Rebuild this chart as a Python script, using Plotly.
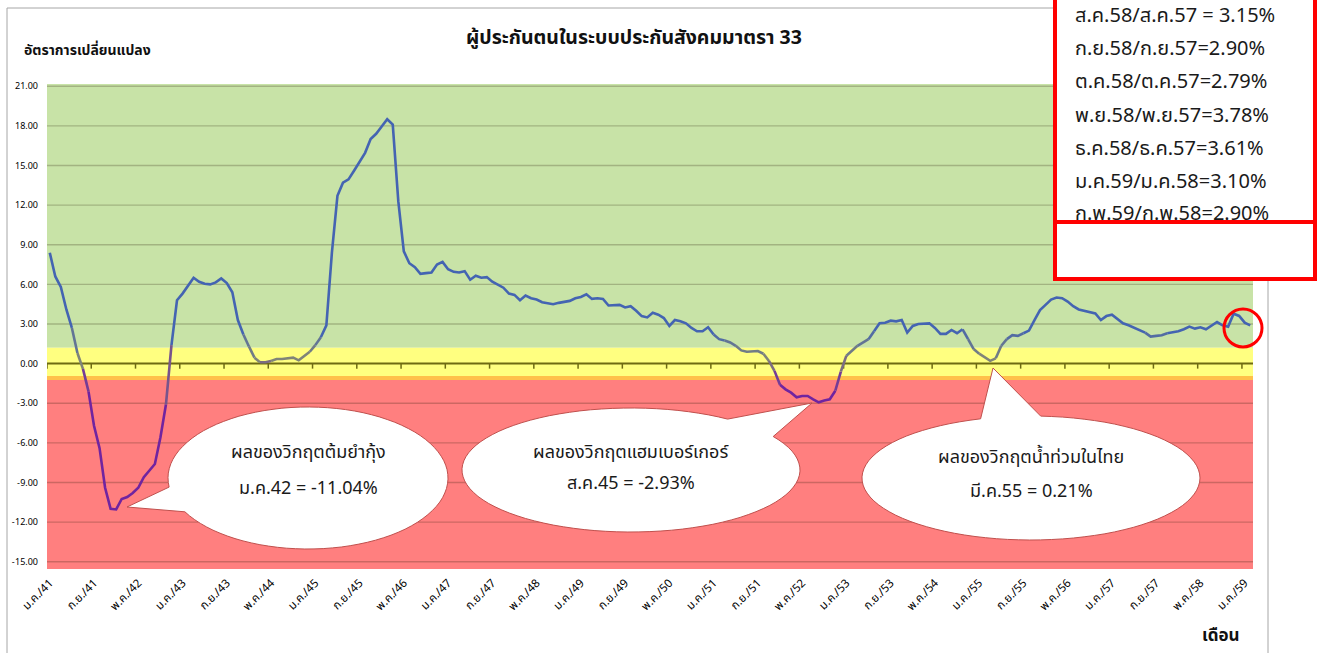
import math
import plotly.graph_objects as go

W, H = 1318, 653
FONT = "Tahoma, 'Noto Sans Thai', 'Leelawadee UI', 'Noto Sans', sans-serif"

# ---- data -----------------------------------------------------------------
thai_months = ["ม.ค.", "ก.พ.", "มี.ค.", "เม.ย.", "พ.ค.", "มิ.ย.",
               "ก.ค.", "ส.ค.", "ก.ย.", "ต.ค.", "พ.ย.", "ธ.ค."]
# monthly categories ม.ค./41 .. ก.พ./59
months = [f"{m}/{y}" for y in range(41, 60) for m in thai_months][:218]

# year-on-year change of insured persons (section 33), %
growth = [
    8.4, 6.6, 5.8, 4.1, 2.7, 0.8, -0.4, -2.1, -4.7, -6.4,
    -9.4, -11.0, -11.04, -10.25, -10.1, -9.8, -9.4, -8.6, -8.1, -7.6,
    -5.6, -3.1, 1.4, 4.8, 5.3, 5.9, 6.5, 6.2, 6.05, 6.0,
    6.15, 6.45, 6.1, 5.4, 3.3, 2.2, 1.3, 0.45, 0.1, 0.1,
    0.2, 0.35, 0.35, 0.4, 0.45, 0.25, 0.6, 0.9, 1.4, 2.0,
    2.9, 8.4, 12.7, 13.7, 13.95, 14.6, 15.3, 15.96, 17.0, 17.4,
    17.95, 18.5, 18.1, 12.3, 8.5, 7.6, 7.3, 6.8, 6.85, 6.9,
    7.5, 7.7, 7.15, 6.95, 6.9, 7.0, 6.35, 6.65, 6.5, 6.55,
    6.2, 5.95, 5.75, 5.3, 5.2, 4.8, 5.15, 4.95, 4.85, 4.65,
    4.6, 4.5, 4.6, 4.65, 4.75, 4.95, 5.05, 5.25, 4.9, 4.95,
    4.9, 4.4, 4.4, 4.45, 4.25, 4.35, 4.0, 3.6, 3.5, 3.85,
    3.7, 3.45, 2.85, 3.3, 3.2, 3.05, 2.7, 2.45, 2.45, 2.75,
    2.2, 1.85, 1.75, 1.6, 1.35, 1.0, 0.9, 0.9, 0.95, 0.75,
    0.2, -0.55, -1.6, -1.95, -2.2, -2.55, -2.45, -2.45, -2.7, -2.93,
    -2.8, -2.7, -2.05, -0.6, 0.6, 1.0, 1.35, 1.6, 1.85, 2.45,
    3.05, 3.1, 3.25, 3.2, 3.3, 2.35, 2.85, 3.0, 3.05, 3.05,
    2.7, 2.25, 2.25, 2.55, 2.3, 2.6, 1.85, 1.1, 0.75, 0.45,
    0.21, 0.4, 1.35, 1.85, 2.15, 2.1, 2.3, 2.5, 3.3, 4.05,
    4.45, 4.85, 5.0, 4.95, 4.7, 4.35, 4.1, 4.0, 3.85, 3.8,
    3.3, 3.6, 3.7, 3.35, 3.05, 2.9, 2.7, 2.55, 2.35, 2.05,
    2.1, 2.15, 2.3, 2.35, 2.45, 2.6, 2.8, 2.65, 2.75, 2.6,
    2.85, 3.15, 2.90, 2.79, 3.78, 3.61, 3.10, 2.90,
]

tick_labels = ["ม.ค./41", "ก.ย./41", "พ.ค./42", "ม.ค./43", "ก.ย./43", "พ.ค./44",
               "ม.ค./45", "ก.ย./45", "พ.ค./46", "ม.ค./47", "ก.ย./47", "พ.ค./48",
               "ม.ค./49", "ก.ย./49", "พ.ค./50", "ม.ค./51", "ก.ย./51", "พ.ค./52",
               "ม.ค./53", "ก.ย./53", "พ.ค./54", "ม.ค./55", "ก.ย./55", "พ.ค./56",
               "ม.ค./57", "ก.ย./57", "พ.ค./58", "ม.ค./59"]
y_ticks = [-15, -12, -9, -6, -3, 0, 3, 6, 9, 12, 15, 18, 21]

# colour zones on the value axis: (low, high, colour)
zones = [(1.2, 21.17, "#C8E3A7"),
         (-0.93, 1.2, "#FFFF80"),
         (-1.24, -0.93, "#FFC04A"),
         (-15.55, -1.24, "#FF7F7F")]

box_lines = ["ส.ค.58/ส.ค.57 = 3.15%", "ก.ย.58/ก.ย.57=2.90%", "ต.ค.58/ต.ค.57=2.79%",
             "พ.ย.58/พ.ย.57=3.78%", "ธ.ค.58/ธ.ค.57=3.61%", "ม.ค.59/ม.ค.58=3.10%",
             "ก.พ.59/ก.พ.58=2.90%"]

callouts = [
    ("ผลของวิกฤตต้มยำกุ้ง", "ม.ค.42 = -11.04%"),
    ("ผลของวิกฤตแฮมเบอร์เกอร์", "ส.ค.45 = -2.93%"),
    ("ผลของวิกฤตน้ำท่วมในไทย", "มี.ค.55 = 0.21%"),
]

# ---- figure ---------------------------------------------------------------
x_idx = list(range(len(months)))
x_lo, x_hi = -0.5, len(months) - 0.5
tick_pos = [months.index(t) for t in tick_labels]

fig = go.Figure()


def line_colour(v):
    blue = (68, 100, 178)
    grey = (128, 132, 120)
    purple = (112, 36, 160)
    if v >= 2.5:
        return blue
    if v <= -2.0:
        return purple
    if v >= 0.5:
        t = round((2.5 - v) / 2.0 * 4) / 4
        a, b = blue, grey
    else:
        t = round((0.5 - v) / 2.5 * 4) / 4
        a, b = grey, purple
    return tuple(int(a[k] + (b[k] - a[k]) * t) for k in range(3))


# split the series into runs of equal colour so the line shades with value
runs = []
for i in range(len(growth) - 1):
    c = line_colour((growth[i] + growth[i + 1]) / 2)
    if runs and runs[-1][0] == c:
        runs[-1][1].append(i + 1)
    else:
        runs.append([c, [i, i + 1]])

for c, idx in runs:
    fig.add_trace(go.Scatter(
        x=[x_idx[k] for k in idx], y=[growth[k] for k in idx],
        mode="lines", line=dict(color=f"rgb{c}", width=2.6),
        hoverinfo="skip", showlegend=False, xaxis="x", yaxis="y"))

# text of the summary box (pixel-space overlay axes)
box_y = [17, 50, 83, 116.5, 150, 183, 215]
fig.add_trace(go.Scatter(
    x=[1075] * len(box_lines), y=box_y, text=box_lines, mode="text",
    textposition="middle right",
    textfont=dict(family=FONT, size=20, color="#1a1a1a"),
    hoverinfo="skip", showlegend=False, cliponaxis=False,
    xaxis="x2", yaxis="y2"))

shapes = []
for lo, hi, col in zones:
    shapes.append(dict(type="rect", xref="x", yref="y", x0=x_lo, x1=x_hi,
                       y0=lo, y1=hi, fillcolor=col, line=dict(width=0),
                       layer="below"))
for yv in y_ticks:
    if yv == 0:
        continue
    shapes.append(dict(type="line", xref="x", yref="y", x0=x_lo, x1=x_hi,
                       y0=yv, y1=yv, line=dict(color="rgba(40,30,10,0.24)", width=1.4),
                       layer="below"))
# zero axis with tick marks between category groups
shapes.append(dict(type="line", xref="x", yref="y", x0=x_lo, x1=x_hi, y0=0, y1=0,
                   line=dict(color="#6E6A12", width=2), layer="below"))
for p in tick_pos:
    shapes.append(dict(type="line", xref="x", yref="y", x0=p - 0.5, x1=p - 0.5,
                       y0=0, y1=-0.38, line=dict(color="#6E6A12", width=1.5),
                       layer="below"))

# chart frame
shapes.append(dict(type="path", xref="x2", yref="y2",
                   path="M 7 660 L 7 8 L 1268 8 L 1268 660",
                   line=dict(color="#A6A6A6", width=1), layer="below"))
# summary box
shapes.append(dict(type="rect", xref="x2", yref="y2", x0=1055, x1=1315, y0=-10, y1=222,
                   fillcolor="white", line=dict(color="#FF0000", width=4), layer="below"))
shapes.append(dict(type="rect", xref="x2", yref="y2", x0=1055, x1=1315, y0=222, y1=279,
                   fillcolor="white", line=dict(color="#FF0000", width=4), layer="above"))
# highlight of the latest months
shapes.append(dict(type="circle", xref="x2", yref="y2", x0=1224, x1=1262, y0=309, y1=347,
                   line=dict(color="#FF0000", width=3), layer="above"))


def bubble(cx, cy, rx, ry, b1, b2, tip):
    """Ellipse outline with a pointer; b1/b2 are pointer base points."""
    def ang(p):
        return math.atan2((p[1] - cy) / ry, (p[0] - cx) / rx)
    a1, a2 = ang(b1), ang(b2)
    if a2 < a1:
        a2 += 2 * math.pi
    # walk the long way round from a2 to a1 + 2pi
    start, end = a2, a1 + 2 * math.pi
    n = 90
    pts = [(cx + rx * math.cos(start + (end - start) * k / n),
            cy + ry * math.sin(start + (end - start) * k / n)) for k in range(n + 1)]
    d = "M " + " L ".join(f"{x:.1f} {y:.1f}" for x, y in pts)
    d += f" L {tip[0]} {tip[1]} Z"
    return d


bubble_geo = [
    dict(c=(308, 478), r=(140, 71), b1=(188, 511), b2=(170, 487), tip=(127, 507),
         ty=(452, 488)),
    dict(c=(631, 470), r=(169, 62), b1=(726, 420), b2=(771, 437), tip=(812, 403),
         ty=(452, 483)),
    dict(c=(1031, 478), r=(169, 62), b1=(979, 417), b2=(1041, 414), tip=(993, 368),
         ty=(457, 491)),
]
annotations = []
for g, (l1, l2) in zip(bubble_geo, callouts):
    path = bubble(g["c"][0], g["c"][1], g["r"][0], g["r"][1], g["b1"], g["b2"], g["tip"])
    shapes.append(dict(type="path", xref="x2", yref="y2", path=path,
                       fillcolor="white", line=dict(color="#C0504D", width=1),
                       layer="above"))
    for txt, ty in zip((l1, l2), g["ty"]):
        annotations.append(dict(x=g["c"][0], y=ty, xref="x2", yref="y2", text=txt,
                                showarrow=False, xanchor="center", yanchor="middle",
                                font=dict(family=FONT, size=18, color="#1a1a1a")))

annotations += [
    dict(x=634, y=38, xref="x2", yref="y2", text="<b>ผู้ประกันตนในระบบประกันสังคมมาตรา 33</b>",
         showarrow=False, xanchor="center", yanchor="middle",
         font=dict(family=FONT, size=19.5, color="#111")),
    dict(x=22, y=50, xref="x2", yref="y2", text="<b>อัตราการเปลี่ยนแปลง</b>",
         showarrow=False, xanchor="left", yanchor="middle",
         font=dict(family=FONT, size=14, color="#111")),
    dict(x=1220, y=636, xref="x2", yref="y2", text="<b>เดือน</b>",
         showarrow=False, xanchor="center", yanchor="middle",
         font=dict(family=FONT, size=17, color="#111")),
]

fig.update_layout(
    width=W, height=H, autosize=False,
    margin=dict(l=0, r=0, t=0, b=0, pad=0),
    paper_bgcolor="white", plot_bgcolor="rgba(0,0,0,0)",
    showlegend=False,
    xaxis=dict(domain=[47 / W, 1253 / W], range=[x_lo, x_hi], anchor="y",
               tickmode="array", tickvals=tick_pos, ticktext=tick_labels,
               tickangle=-45, ticks="", showgrid=False, zeroline=False,
               showline=False, ticklabelstandoff=4, automargin=False,
               tickfont=dict(family=FONT, size=11.5, color="#000")),
    yaxis=dict(domain=[1 - 569 / H, 1 - 84 / H], range=[-15.55, 21.17], anchor="x",
               tickmode="array", tickvals=y_ticks, tickformat=".2f", ticks="",
               showgrid=False, zeroline=False, showline=False,
               ticklabelstandoff=8, automargin=False,
               tickfont=dict(family=FONT, size=9, color="#000")),
    xaxis2=dict(domain=[0, 1], range=[0, W], anchor="y2", visible=False,
                automargin=False),
    yaxis2=dict(domain=[0, 1], range=[H, 0], anchor="x2", visible=False,
                automargin=False),
    shapes=shapes,
    annotations=annotations,
)

fig.write_html("out.html")
